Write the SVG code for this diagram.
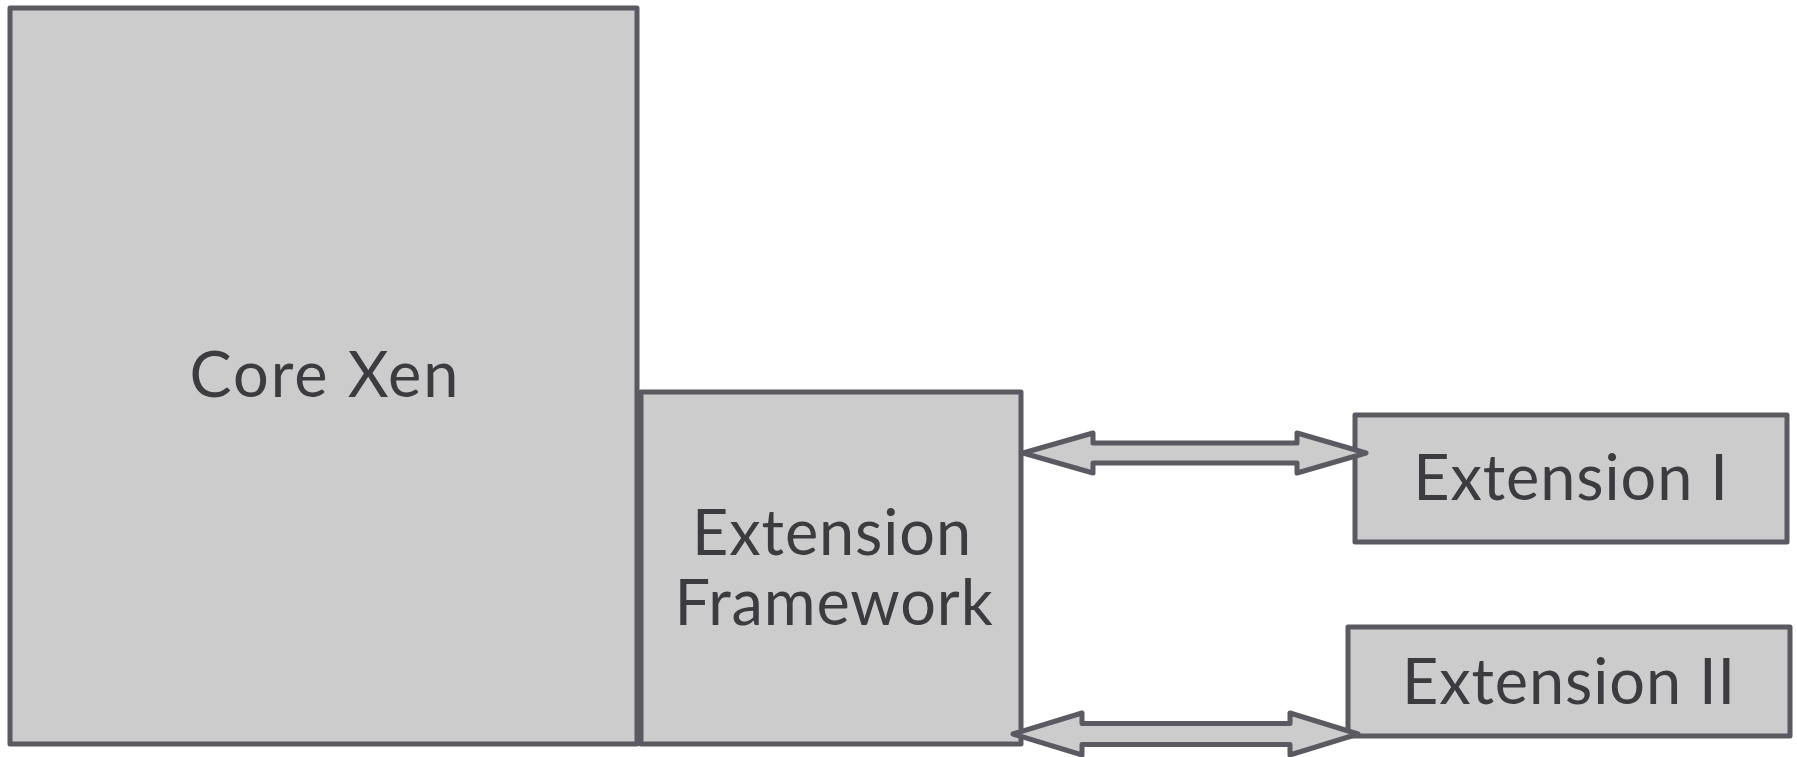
<svg xmlns="http://www.w3.org/2000/svg" width="1797" height="757" viewBox="0 0 1797 757">
<style>
.box{fill:#cccccc;stroke:#5b5a63;stroke-width:5;stroke-linejoin:round}
.arr{fill:#cccccc;stroke:#5b5a63;stroke-width:5;stroke-linejoin:round}
.lbl{font-family:Lato,"Noto Sans","Liberation Sans",sans-serif;font-size:63px;fill:#3c3b40;text-anchor:middle;letter-spacing:0.9px}
.wide{letter-spacing:2px}
</style>
<rect width="1797" height="757" fill="#ffffff"/>
<g id="core-xen">
<rect class="box" x="10" y="8" width="627" height="736"/>
<text class="lbl wide" x="325" y="397">Core Xen</text>
</g>
<g id="extension-framework">
<rect class="box" x="641" y="392" width="380" height="352"/>
<text class="lbl" x="832" y="555">Extension</text>
<text class="lbl" x="834" y="625">Framework</text>
</g>
<g id="extension-1">
<rect class="box" x="1355" y="415" width="432" height="127"/>
<text class="lbl" x="1571" y="500">Extension I</text>
</g>
<g id="extension-2">
<rect class="box" x="1348" y="627" width="442" height="109"/>
<text class="lbl" x="1569" y="704">Extension II</text>
</g>
<g id="connectors">
<polygon class="arr" points="1023,453 1093,433 1093,443 1297,443 1297,433 1366,453 1297,473 1297,463 1093,463 1093,473"/>
<polygon class="arr" points="1013,734 1082,713 1082,723.5 1290,723.5 1290,713 1358,734 1290,755 1290,744.5 1082,744.5 1082,755"/>
</g>
</svg>
